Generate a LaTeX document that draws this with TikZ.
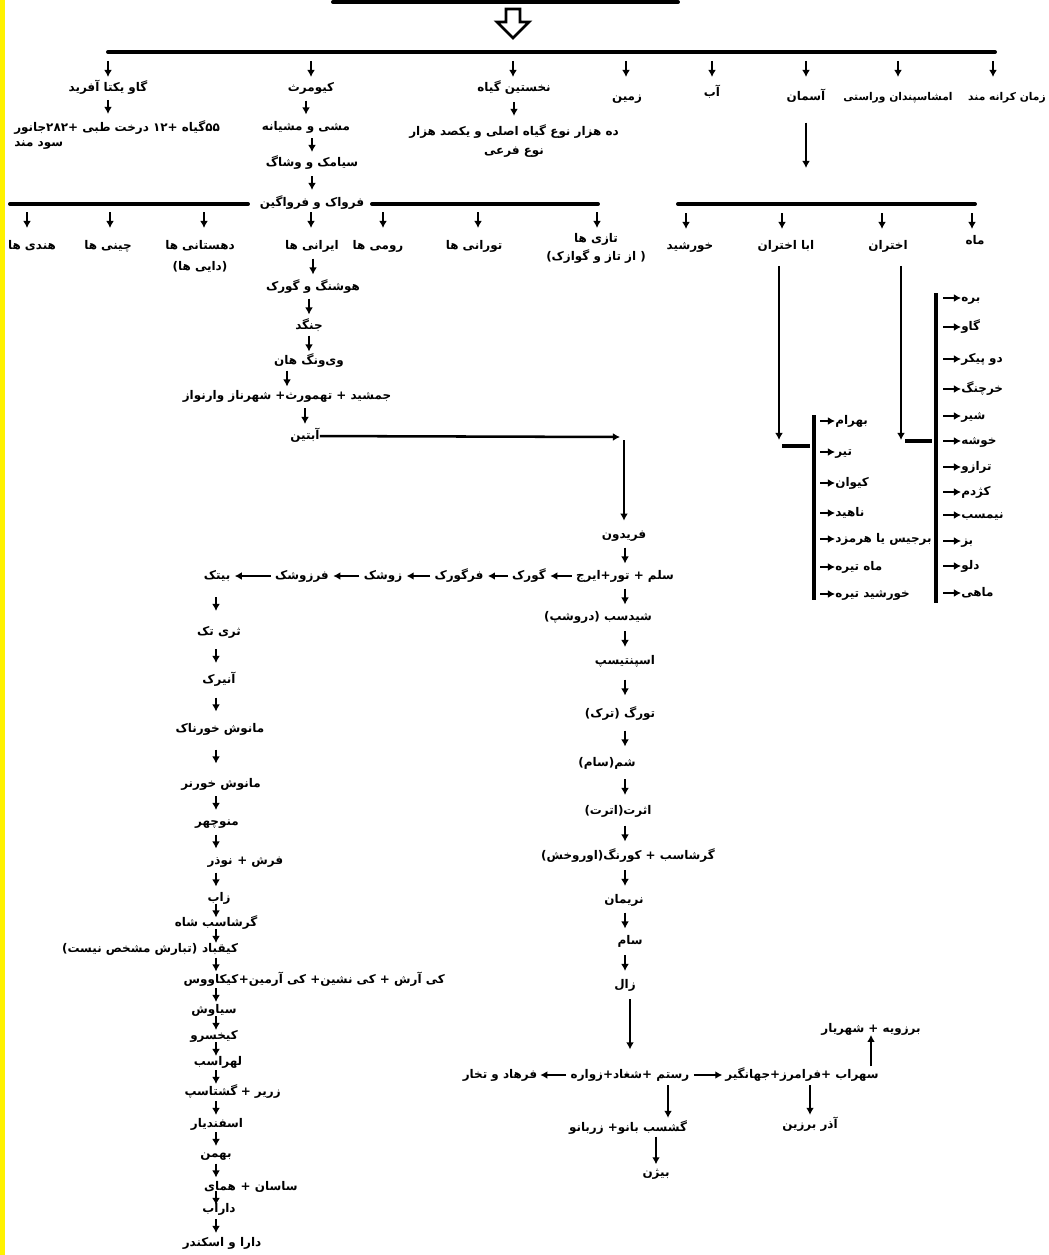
\documentclass[tikz,border=0pt]{standalone}
\usepackage{fontspec}
\usetikzlibrary{arrows.meta,positioning,calc}
\newfontfamily\fa[Script=Arabic]{DejaVu Sans}
\TeXXeTstate=1
\newcommand{\rl}[1]{\beginR #1\endR}

\tikzset{
  fa/.style={inner sep=0pt, font=\fa\bfseries\fontsize{8.5}{12}\selectfont},
  lbl/.style={fa, text height=6.5pt, text depth=1.5pt},
  small/.style={font=\fa\bfseries\fontsize{7.6}{10}\selectfont},
  arr/.style={-{Latex[length=5pt,width=5.5pt]}, line width=1.4pt},
  bar/.style={line width=2.8pt, line cap=round},
  bracket/.style={line width=2.2pt},
}

\begin{document}
\begin{tikzpicture}[x=0.025cm, y=-0.025cm]
\useasboundingbox (0,0) rectangle (1048,1255);
\fill[white] (0,0) rectangle (1048,1255);
\fill[yellow] (0,0) rectangle (5,1255);

% head
\draw[bar] (333,2) -- (678,2);
\draw[line width=2pt, line join=miter] (506,9) -- (520,9) -- (520,22) -- (529,22)
  -- (513,38) -- (497,22) -- (506,22) -- cycle;
\draw[bar] (108,52) -- (995,52);

% first row
\node[lbl] (gav) at (108,88) {\rl{گاو یکتا آفرید}};
\node[lbl] (kiu) at (311,88) {\rl{کیومرث}};
\node[lbl] (giah) at (514,88) {\rl{نخستین گیاه}};
\node[lbl] (zamin) at (627,97) {\rl{زمین}};
\node[lbl] (ab) at (712,93) {\rl{آب}};
\node[lbl] (asman) at (806,97) {\rl{آسمان}};
\node[lbl, small] (amsh) at (898,97) {\rl{امشاسپندان وراستی}};
\node[lbl, small, anchor=east] (zaman) at (1046,97) {\rl{زمان کرانه مند}};
\foreach \n/\x in {gav/108, kiu/311, giah/513, zamin/626, ab/712, asman/806, amsh/898, zaman/993}
  \draw[arr] (\x,61) -- (\x,77);

% gav
\node[fa, align=left, anchor=north west] (gavx) at (14,120)
  {\rl{۵۵گیاه +۱۲ درخت طبی +۲۸۲جانور}\\[-1pt]\rl{سود مند}};
\draw[arr] ($(gav.south)!.5!(gav |- gavx.north)$) ++(0,-7) -- ++(0,14);

% giah
\node[fa, align=center] (giahx) at (514,141)
  {\rl{ده هزار نوع گیاه اصلی و یکصد هزار}\\[2pt]\rl{نوع فرعی}};
\draw[arr] ($(giah.south)!.5!(giah |- giahx.north)$) ++(0,-7) -- ++(0,14);

% kiumars
\node[lbl] (mashi) at (306,127) {\rl{مشی و مشیانه}};
\node[lbl] (siamak) at (312,163) {\rl{سیامک و وشاگ}};
\node[lbl] (farvak) at (312,203) {\rl{فرواک و فرواگین}};
\foreach \u/\v in {kiu/mashi, mashi/siamak, siamak/farvak}
  \draw[arr] ($(\v |- \u.south)!.5!(\v.north)$) ++(0,-7) -- ++(0,14);

% peoples
\draw[bar] (10,204) -- (248,204);
\draw[bar] (372,204) -- (598,204);
\node[lbl] (hendi) at (32,246) {\rl{هندی ها}};
\node[lbl] (chini) at (108,246) {\rl{چینی ها}};
\node[fa, align=center, anchor=north] (dehestani) at (200,240) {\rl{دهستانی ها}\\[3pt]\rl{(دایی ها)}};
\node[lbl] (irani) at (312,246) {\rl{ایرانی ها}};
\node[lbl] (rumi) at (378,246) {\rl{رومی ها}};
\node[lbl] (turani) at (474,246) {\rl{تورانی ها}};
\node[fa, align=center, anchor=north] (tazi) at (596,233) {\rl{تازی ها}\\[1pt]\rl{( از تاز و گوازک)}};
\foreach \n/\x in {hendi/27, chini/110, dehestani/204, irani/311, rumi/383, turani/478, tazi/597}
  \draw[arr] (\x,212) -- (\x,228);

% iranians
\node[lbl] (hushang) at (313,287) {\rl{هوشنگ و گورک}};
\node[lbl] (jangad) at (309,326) {\rl{جنگد}};
\node[lbl] (viv) at (309,361) {\rl{وی‌ونگ هان}};
\node[lbl] (jam) at (287,396) {\rl{جمشید + تهمورث+ شهرناز وارنواز}};
\node[lbl] (abtin) at (305,436) {\rl{آبتین}};
\foreach \u/\v in {irani/hushang, hushang/jangad, jangad/viv, viv/jam, jam/abtin}
  \draw[arr] ($(\v |- \u.south)!.5!(\v.north)$) ++(0,-8) -- ++(0,16);

% sky
\coordinate (asmanEnd) at (806,168);
\draw[arr, line width=1.6pt, shorten <=14pt] (asman) -- (asmanEnd);
\draw[bar] (678,204) -- (975,204);
\node[lbl] (khorshid) at (690,246) {\rl{خورشید}};
\node[lbl] (aba) at (786,246) {\rl{ابا اختران}};
\node[lbl] (akhtaran) at (888,246) {\rl{اختران}};
\node[lbl] (mah) at (975,241) {\rl{ماه}};
\foreach \n/\x in {khorshid/686, aba/782, akhtaran/882, mah/972}
  \draw[arr] (\x,213) -- (\x,229);

\coordinate (abaEnd) at (779,440);
\coordinate (akhEnd) at (901,440);
\draw[arr, line width=1.8pt, shorten <=10pt] (abaEnd |- aba.south) -- (abaEnd);
\draw[arr, line width=1.8pt, shorten <=10pt] (akhEnd |- akhtaran.south) -- (akhEnd);
\draw[bar, line cap=butt] (782,446) -- (810,446);
\draw[bar, line cap=butt] (905,441) -- (932,441);
\draw[bracket] (814,415) -- (814,600);
\draw[bracket] (936,293) -- (936,603);

% planets
\foreach \n/\t/\y in {bahram/بهرام/421, tir/تیر/452, keyvan/کیوان/483, nahid/ناهید/513,
    berjis/برجیس یا هرمزد/539, mahtire/ماه تیره/567, khtire/خورشید تیره/594}{
  \node[lbl, anchor=west] (\n) at (835,\y) {\rl{\t}};
  \draw[arr] (\n.west -| 820,0) -- (\n.west);
}

% zodiac
\foreach \n/\t/\y in {barre/بره/298, gavz/گاو/327, dopeykar/دو پیکر/359, kharchang/خرچنگ/389,
    shir/شیر/416, khushe/خوشه/441, tarazu/ترازو/467, kazhdom/کژدم/492, nimasb/نیمسب/515,
    boz/بز/541, dalv/دلو/566, mahi/ماهی/593}{
  \node[lbl, anchor=west] (\n) at (961,\y) {\rl{\t}};
  \draw[arr] (\n.west -| 943,0) -- (\n.west);
}

% fereydun
\coordinate (abtinEnd) at (620,437);
\coordinate (fTop) at (624,440);
\draw[arr, line width=1.8pt] (abtin) -- (abtinEnd);
\node[lbl] (fereydun) at (624,535) {\rl{فریدون}};
\draw[arr, line width=1.8pt, shorten >=6pt] (fTop) -- (fTop |- fereydun.north);

\coordinate (rc) at (625,0);
\node[lbl] (salm) at (625,576) {\rl{سلم + تور+ایرج}};
\node[lbl] (shidasb) at (598,617) {\rl{شیدسب (دروشپ)}};
\node[lbl] (spantisp) at (625,661) {\rl{اسپنتیسپ}};
\node[lbl] (turag) at (620,714) {\rl{تورگ (ترک)}};
\node[lbl] (sham) at (607,763) {\rl{شم(سام)}};
\node[lbl] (asrat) at (618,811) {\rl{اثرت(اترت)}};
\node[lbl] (garshasbk) at (628,856) {\rl{گرشاسب + کورنگ(اوروخش)}};
\node[lbl] (nariman) at (624,900) {\rl{نریمان}};
\node[lbl] (sam) at (630,941) {\rl{سام}};
\node[lbl] (zal) at (625,985) {\rl{زال}};
\foreach \u/\v in {fereydun/salm, salm/shidasb, shidasb/spantisp, spantisp/turag, turag/sham,
    sham/asrat, asrat/garshasbk, garshasbk/nariman, nariman/sam, sam/zal}
  \draw[arr] ($(\u.south -| rc)!.5!(\v.north -| rc)$) ++(0,-8) -- ++(0,16);

% iraj line
\node[lbl] (gurak) at (529,576) {\rl{گورک}};
\node[lbl] (fargurak) at (459,576) {\rl{فرگورک}};
\node[lbl] (zushak) at (383,576) {\rl{زوشک}};
\node[lbl] (farzushak) at (302,576) {\rl{فرزوشک}};
\node[lbl] (bitak) at (217,576) {\rl{بیتک}};
\foreach \u/\v in {salm/gurak, gurak/fargurak, fargurak/zushak, zushak/farzushak, farzushak/bitak}
  \draw[arr, shorten <=3pt, shorten >=3pt] (\u) -- (\v);

\coordinate (lc) at (216,0);
\node[lbl] (thri) at (219,632) {\rl{ثری تک}};
\node[lbl] (anirak) at (219,680) {\rl{آنیرک}};
\node[lbl] (manush1) at (220,729) {\rl{مانوش خورناک}};
\node[lbl] (manush2) at (221,784) {\rl{مانوش خورنر}};
\node[lbl] (manuchehr) at (217,822) {\rl{منوچهر}};
\node[lbl] (nozar) at (220,861) {\rl{نوذر}};
\node[lbl, right=3pt of nozar] (farsh) {\rl{فرش +}};
\node[lbl] (zab) at (219,898) {\rl{زاب}};
\node[lbl] (garshasb) at (216,923) {\rl{گرشاسب شاه}};
\node[lbl] (kaiqobad) at (220,949) {\rl{کیقباد}};
\node[lbl, left=3pt of kaiqobad] (kqnote) {\rl{(تبارش مشخص نیست)}};
\node[lbl] (kavus) at (211,980) {\rl{کیکاووس}};
\node[lbl, right=0pt of kavus] (kavusx) {\rl{کی آرش + کی نشین+ کی آرمین+}};
\node[lbl] (siavash) at (214,1010) {\rl{سیاوش}};
\node[lbl] (kaikhosro) at (214,1036) {\rl{کیخسرو}};
\node[lbl] (lohrasb) at (218,1062) {\rl{لهراسب}};
\node[lbl] (goshtasp) at (211,1092) {\rl{گشتاسپ}};
\node[lbl, right=2pt of goshtasp] (zarir) {\rl{زریر +}};
\node[lbl] (esfandiar) at (217,1124) {\rl{اسفندیار}};
\node[lbl] (bahman) at (216,1154) {\rl{بهمن}};
\node[lbl] (homay) at (220,1187) {\rl{همای}};
\node[lbl, right=3pt of homay] (sasan) {\rl{ساسان +}};
\node[lbl] (darab) at (219,1209) {\rl{داراب}};
\node[lbl] (dara) at (222,1243) {\rl{دارا و اسکندر}};
\foreach \u/\v in {bitak/thri, thri/anirak, anirak/manush1, manush1/manush2, manush2/manuchehr,
    manuchehr/nozar, nozar/zab, zab/garshasb, garshasb/kaiqobad, kaiqobad/kavus, kavus/siavash,
    siavash/kaikhosro, kaikhosro/lohrasb, lohrasb/goshtasp, goshtasp/esfandiar, esfandiar/bahman,
    bahman/homay, homay/darab, darab/dara}
  \draw[arr] ($(\u.south -| lc)!.5!(\v.north -| lc)$) ++(0,-7) -- ++(0,14);

% rostam
\coordinate (zc) at (630,0);
\coordinate (rg) at (668,0);
\node[lbl] (rostam) at (630,1075) {\rl{رستم +شغاد+زواره}};
\node[lbl] (farhad) at (500,1075) {\rl{فرهاد و تخار}};
\node[lbl] (sohrab) at (802,1075) {\rl{سهراب +فرامرز+جهانگیر}};
\node[lbl] (borzu) at (871,1029) {\rl{برزویه + شهریار}};
\node[lbl] (azar) at (810,1125) {\rl{آذر برزین}};
\node[lbl] (goshasb) at (628,1128) {\rl{گشسب بانو+ زربانو}};
\node[lbl] (bijan) at (656,1173) {\rl{بیژن}};
\draw[arr, line width=1.6pt, shorten <=6pt, shorten >=14pt] (zal.south -| zc) -- (rostam.north -| zc);
\draw[arr, shorten <=3pt, shorten >=2pt] (rostam) -- (farhad);
\draw[arr, shorten <=3pt, shorten >=2pt] (rostam) -- (sohrab);
\draw[arr, shorten <=2pt] (sohrab.north -| borzu) -- (borzu.south);
\draw[arr, shorten <=3pt, shorten >=3pt] (sohrab.south -| azar) -- (azar.north);
\draw[arr, shorten <=3pt, shorten >=3pt] (rostam.south -| rg) -- (goshasb.north -| rg);
\draw[arr, shorten <=2pt, shorten >=2pt] (bijan |- goshasb.south) -- (bijan.north);
\end{tikzpicture}
\end{document}
